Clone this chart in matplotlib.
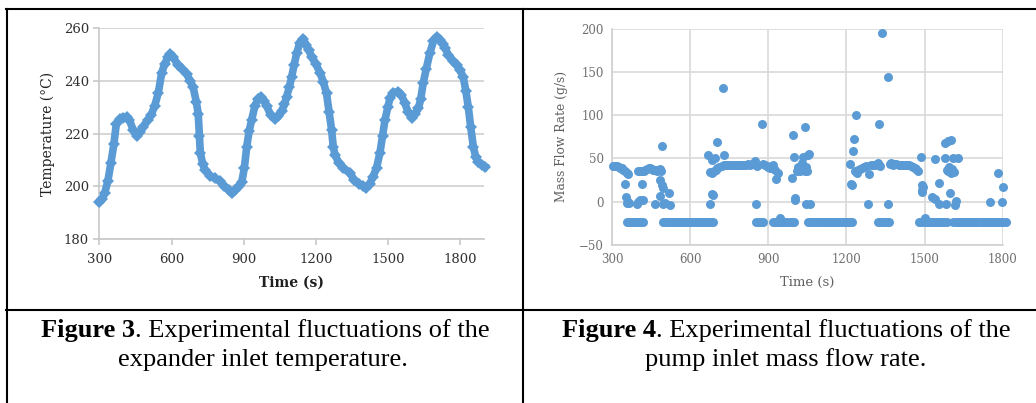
import numpy as np
import matplotlib
matplotlib.use("Agg")
import matplotlib.pyplot as plt
from matplotlib.lines import Line2D

# Figure 3: expander inlet temperature
temp_time = [300, 310, 322, 335, 348, 360, 370, 385, 400, 413, 425, 440, 455, 468, 482,
             500, 515, 530, 545, 559, 572, 585, 595, 605, 628, 645, 663, 678, 690, 703,
             711, 716, 720, 730, 739, 760, 780, 801, 820, 838, 850, 865, 880, 892, 903,
             913, 923, 933, 947, 960, 971, 985, 996, 1012, 1030, 1045, 1058, 1070, 1079,
             1090, 1100, 1110, 1121, 1134, 1148, 1160, 1172, 1183, 1200, 1218, 1232, 1245,
             1256, 1266, 1273, 1280, 1295, 1315, 1342, 1360, 1380, 1398, 1411, 1425, 1439,
             1453, 1467, 1478, 1488, 1500, 1509, 1522, 1543, 1557, 1571, 1585, 1599, 1613,
             1627, 1637, 1647, 1660, 1675, 1690, 1703, 1718, 1730, 1738, 1752, 1770, 1786,
             1800, 1814, 1825, 1835, 1845, 1856, 1866, 1876, 1890, 1904]
temp_val = [194, 195, 197.5, 202, 209, 216, 223.5, 225.5, 226, 226.4, 225, 221.5, 219, 220.5, 222.5,
            225, 227, 230.5, 235.5, 243, 246.5, 249, 250.2, 249, 246, 244.5, 242.5, 240, 237.5, 232,
            227.5, 219, 212.5, 208.5, 206.2, 204, 203, 202, 200, 198.5, 197.5, 198.5, 200, 201.5, 207,
            215, 221, 225, 230.5, 233, 234, 232.5, 230.5, 227, 225.5, 226.5, 228.5, 231, 234,
            237.5, 241.5, 246, 250.5, 254.5, 256, 253.5, 251.5, 249, 246.5, 243, 239.5, 235.2,
            228, 221.5, 215, 212, 209, 207, 205, 202.5, 201, 200, 199.5, 201, 203.7,
            207, 212.5, 219, 225, 230, 233.3, 235.5, 235.9, 234.5, 231.5, 228, 226, 227.5,
            229.5, 233, 239, 244.5, 250.5, 255, 256.7, 255.5, 254, 252.5, 249.8, 247.5, 246,
            244, 241.5, 236, 230, 222.5, 215, 211, 209.3, 208, 207.4]

# Figure 4: pump inlet mass flow rate
flow_time = [304, 312, 318, 325, 331, 337, 343, 349, 355, 361, 349, 351, 355, 360, 366,
             394, 400, 406, 413, 419, 400, 407, 413, 420, 427, 433, 440, 446, 452, 458,
             464, 470, 476, 483, 489, 490, 483, 490, 496, 483, 464, 496, 518, 522, 502,
             669, 675, 688, 684, 682, 701, 727, 729, 693, 675, 682, 690, 697, 704, 712,
             720, 728, 735, 742, 750, 758, 766, 774, 782, 790, 798, 806, 814, 822, 830,
             838, 846, 848, 854, 858, 854, 874, 880, 887, 893, 899, 905, 912, 918, 925,
             931, 938, 944, 989, 995, 998, 1001, 1004, 1008, 1014, 1020, 1026, 1032, 1040,
             1040, 1046, 1052, 1046, 1056, 1049, 1059, 1028, 1034, 1501,
             1214, 1216, 1220, 1226, 1229, 1237, 1233, 1240, 1245, 1252, 1260, 1268, 1276,
             1284, 1288, 1293, 1300, 1309, 1316, 1321, 1325, 1328, 1335, 1358, 1361,
             1367, 1372, 1378, 1385, 1392, 1400, 1408, 1416, 1424, 1432, 1440, 1448, 1456,
             1462, 1468, 1476, 1485, 1489, 1495, 1489, 1492,
             1527, 1539, 1539, 1556, 1556, 1578, 1578, 1582, 1590, 1603, 1586, 1590, 1594,
             1598, 1602, 1606, 1596, 1610, 1629, 1619, 1616, 1612,
             1751, 1783, 1796, 1800]
flow_rate = [41.7, 41.5, 41, 40.5, 39.5, 38.5, 37, 35, 33.5, 31.5, 20, 5.5, -1, 0, -2,
             -2.6, 0, 2.5, 20.5, 2.5, 36, 36, 35.5, 36, 36.5, 38, 39, 39.5, 38, 37,
             36.5, 36, 37, 37.5, 36, 64.8, 25, 19.3, 15.5, 7, -2.6, -2.6, 10.4, -3.9, -1,
             53.5, -2.3, 8.2, 9, 47.8, 69.5, 131, 54, 50, 34.5, 33.5, 35, 37, 39, 40,
             41, 42, 42.5, 43, 42.5, 42, 42.5, 42.5, 43, 42.5, 43, 42.5, 43, 44, 43,
             44, 45, 47, 43, 41, -2.2, 89.8, 43.6, 42, 41, 40.5, 39, 41.5, 42.4, 36.7,
             25.8, 33.6, -19, 28, 77.5, 52, 2.1, 4, 35, 40.5, 35, 38, 52, 86,
             36, -2.6, 54, 40, 55, 35, -2.6, 45, 37, -19,
             43.6, 21, 19.3, 59, 72.5, 100, 35, 33, 37, 38, 39, 40, 41,
             -2.6, 32, 42, 42.5, 42.4, 44, 44.3, 89.8, 41.5, 194.6, -2.6, 143.8,
             44, 45, 43, 44, 43.5, 43, 43, 43, 42.5, 42, 42, 41, 40,
             39, 38, 35.9, 51.5, 19.3, 17.4, 11.5, 13,
             5, 2.7, 49.5, 21.2, -2.6, 50, 67.5, -2.6, 70, 71.3, 37, 35, 40,
             36, 33, 38, 10.3, 50, 50, 1.2, -3.8, 34,
             -0.7, 32.8, 0.1, 17.4]

# times where the meter sat at its lower limit
floor_time = [355, 363, 371, 379, 387, 395, 403, 411, 419,
              496, 504, 512, 520, 528, 536, 544, 552, 560, 568, 576, 584, 592, 600, 608,
              616, 624, 632, 640, 648, 656, 664, 672, 680, 688,
              853, 861, 869, 877, 881,
              917, 925, 933, 941, 949, 957, 965, 973, 981, 989, 997,
              1053, 1061, 1069, 1077, 1085, 1093, 1101, 1109, 1117, 1125, 1133, 1141, 1149,
              1157, 1165, 1173, 1181, 1189, 1197, 1205, 1213, 1220,
              1322, 1330, 1338, 1346, 1354, 1363,
              1480, 1488, 1496, 1504, 1512, 1520, 1528, 1536, 1544, 1552, 1560, 1568, 1576, 1585,
              1611, 1619, 1627, 1635, 1643, 1651, 1659, 1667, 1675, 1683, 1691, 1699, 1707,
              1715, 1723, 1731, 1739, 1747, 1755, 1763, 1771, 1779, 1787, 1795, 1803, 1811]
floor_rate = -23

blue = '#5b9bd5'
serif = 'DejaVu Serif'

fig = plt.figure(figsize=(10.36, 4.03), dpi=100)

# ---- left chart
ax1 = fig.add_axes([0.0960, 0.4069, 0.3711, 0.5236])
ax1.plot(temp_time, temp_val, color=blue, lw=5.5, marker='D', ms=6.5, mew=0, clip_on=False, zorder=3)
ax1.set_xlim(300, 1900)
ax1.set_ylim(180, 260)
ax1.set_xticks([300, 600, 900, 1200, 1500, 1800])
ax1.set_yticks([180, 200, 220, 240, 260])
ax1.grid(axis='y', color='#d0d0d0', lw=1.2)
ax1.set_axisbelow(True)
for s in ['top', 'right']:
    ax1.spines[s].set_visible(False)
for s in ['left', 'bottom']:
    ax1.spines[s].set_color('#c8c8c8')
    ax1.spines[s].set_linewidth(1.2)
ax1.tick_params(colors='#c8c8c8', labelcolor='#303030', length=4, width=1.2)
ax1.tick_params(axis='x', pad=6)
for lab in ax1.get_xticklabels() + ax1.get_yticklabels():
    lab.set_fontfamily(serif)
    lab.set_fontsize(9.5)
ax1.set_xlabel('Time (s)', family=serif, fontsize=10, fontweight='bold', color='#202020', labelpad=7)
ax1.set_ylabel('Temperature (°C)', family=serif, fontsize=10, color='#202020', labelpad=6)

# ---- right chart
ax2 = fig.add_axes([0.5910, 0.3921, 0.3768, 0.5367])
ax2.scatter(floor_time, np.full(len(floor_time), floor_rate), s=42, color=blue, lw=0, zorder=3, clip_on=False)
ax2.scatter(flow_time, flow_rate, s=42, color=blue, lw=0, zorder=3, clip_on=False)
ax2.set_xlim(300, 1800)
ax2.set_ylim(-50, 200)
ax2.set_xticks([300, 600, 900, 1200, 1500, 1800])
ax2.set_yticks([-50, 0, 50, 100, 150, 200])
ax2.grid(color='#d9d9d9', lw=1.2)
ax2.set_axisbelow(True)
for s in ['top', 'right']:
    ax2.spines[s].set_visible(False)
for s in ['left', 'bottom']:
    ax2.spines[s].set_color('#d0d0d0')
    ax2.spines[s].set_linewidth(1.2)
ax2.tick_params(length=0, labelcolor='#707070', pad=6)
for lab in ax2.get_xticklabels() + ax2.get_yticklabels():
    lab.set_fontfamily(serif)
    lab.set_fontsize(8.5)
ax2.set_xlabel('Time (s)', family=serif, fontsize=9.5, color='#606060', labelpad=7)
ax2.set_ylabel('Mass Flow Rate (g/s)', family=serif, fontsize=8.8, color='#606060', labelpad=8)

# ---- table frame
def hline(y, x0, x1):
    fig.add_artist(Line2D([x0, x1], [y, y], color='black', lw=1.5, transform=fig.transFigure))

def vline(x, y0, y1):
    fig.add_artist(Line2D([x, x], [y0, y1], color='black', lw=1.5, transform=fig.transFigure))

hline(1 - 8.5 / 403, 6 / 1036, 1.0)
hline(1 - 309.5 / 403, 6 / 1036, 1.0)
vline(6.5 / 1036, 0, 1 - 8.5 / 403)
vline(523 / 1036, 0, 1 - 8.5 / 403)

# ---- captions (bold figure number followed by normal text)
cap_font = 'Liberation Serif'
cap_size = 19
fig.canvas.draw()
renderer = fig.canvas.get_renderer()

def caption(xc, y, bold, rest):
    t1 = fig.text(0, y, bold, family=cap_font, fontsize=cap_size, fontweight='bold', va='baseline')
    t2 = fig.text(0, y, rest, family=cap_font, fontsize=cap_size, va='baseline')
    w1 = t1.get_window_extent(renderer).width / fig.bbox.width
    w2 = t2.get_window_extent(renderer).width / fig.bbox.width
    x0 = xc - (w1 + w2) / 2
    t1.set_x(x0)
    t2.set_x(x0 + w1)

caption(265 / 1036, 1 - 337 / 403, 'Figure 3', '. Experimental fluctuations of the')
fig.text(263 / 1036, 1 - 366 / 403, 'expander inlet temperature.', family=cap_font, fontsize=cap_size,
         ha='center', va='baseline')
caption(786 / 1036, 1 - 337 / 403, 'Figure 4', '. Experimental fluctuations of the')
fig.text(786 / 1036, 1 - 366 / 403, 'pump inlet mass flow rate.', family=cap_font, fontsize=cap_size,
         ha='center', va='baseline')

fig.savefig('out.png', dpi=100)
